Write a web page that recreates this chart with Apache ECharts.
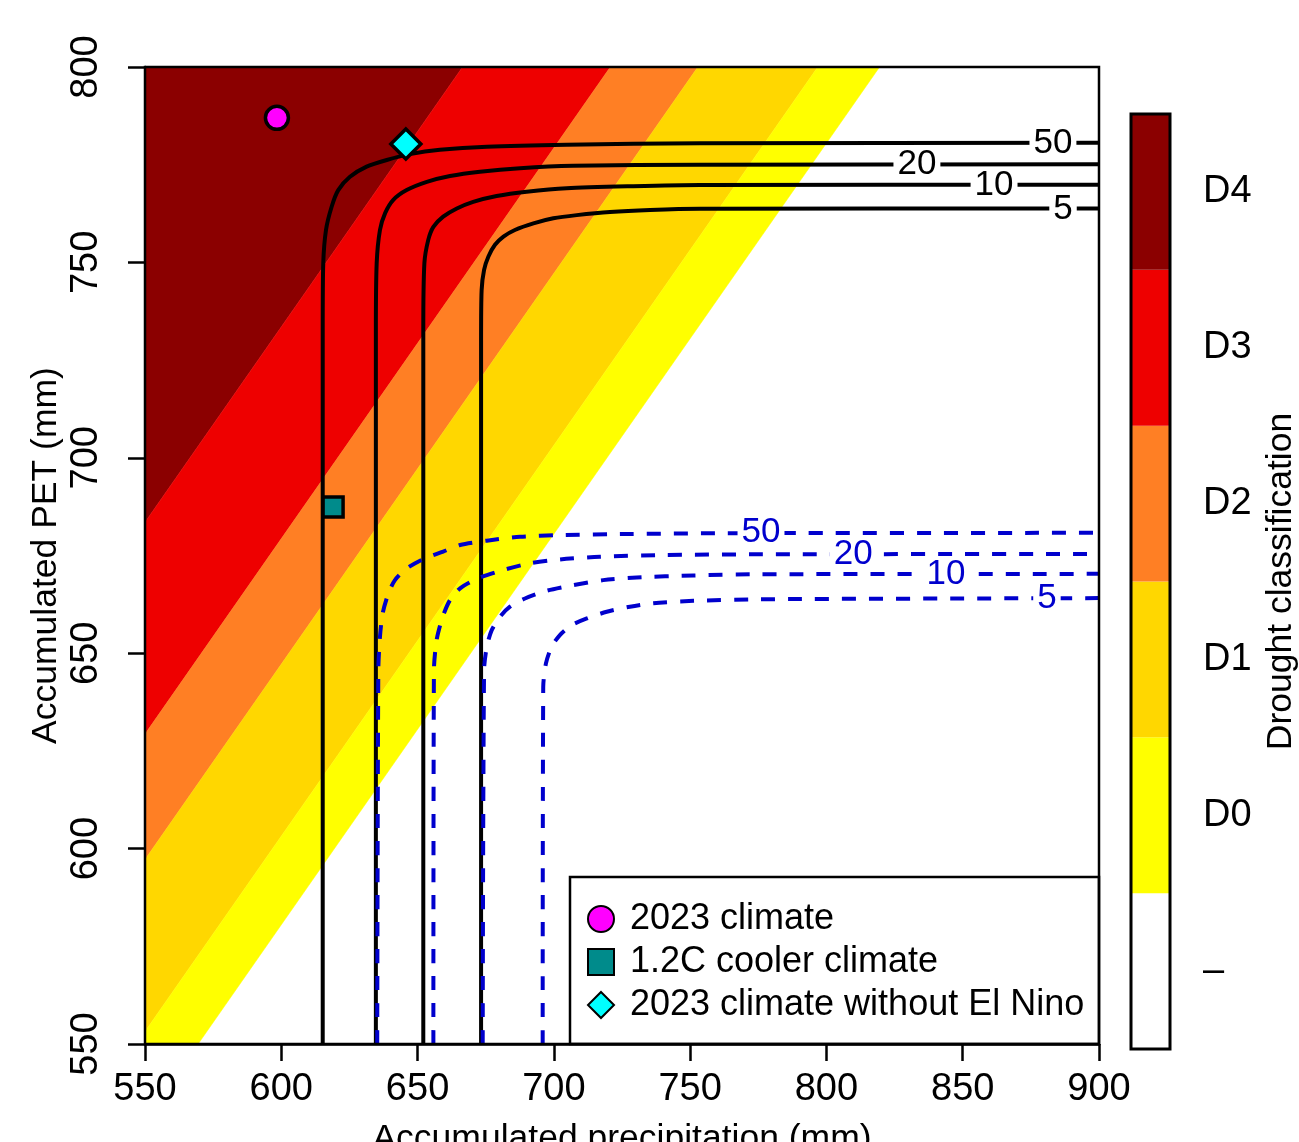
<!DOCTYPE html>
<html>
<head>
<meta charset="utf-8">
<script src="https://cdn.jsdelivr.net/npm/echarts@6/dist/echarts.min.js"></script>
<style>html,body{margin:0;padding:0;background:#fff}#c{width:1299px;height:1142px}</style>
</head>
<body>
<div id="c"></div>
<script>
// ---------------- DATA ----------------
const xTicks = [550, 600, 650, 700, 750, 800, 850, 900];
const yTicks = [550, 600, 650, 700, 750, 800];

// Drought classes as bands of (PET - precipitation)
const bandNames  = ['D4', 'D3', 'D2', 'D1', 'D0'];
const bandLower  = [133.5, 79.3, 47.2, 3.2, -19.5];
const bandUpper  = [400, 133.5, 79.3, 47.2, 3.2];
const bandColors = ['#8B0000', '#EE0000', '#FF7F24', '#FFD700', '#FFFF00'];

const colorbarLabels = ['–', 'D0', 'D1', 'D2', 'D3', 'D4'];
const colorbarColors = ['#FFFFFF', '#FFFF00', '#FFD700', '#FF7F24', '#EE0000', '#8B0000'];

const returnPeriods = ['50', '20', '10', '5'];

// Return-period contours, 2023 climate (black, solid)
const black50 = [[615.2,550],[615.2,732.7],[615.4,749.8],[616.4,758.3],[618.5,764.3],[620.9,768.5],[625.2,771.9],[631.3,774.5],[638.7,776.2],[647.2,777.7],[658.2,778.8],[675.4,779.6],[704.7,780.1],[753.6,780.5],[900,780.6]];
const black20 = [[634.7,550],[634.7,732.7],[635.0,749.8],[636.2,758.3],[638.1,762.6],[641.1,766.0],[646.0,768.5],[653.4,770.6],[661.9,772.1],[672.9,773.2],[687.6,774.1],[707.1,774.7],[753.6,775.0],[900,775.1]];
const black10 = [[652.1,550],[652.1,732.7],[652.5,749.8],[653.9,755.7],[655.8,759.1],[659.4,761.7],[664.4,763.8],[670.4,765.5],[679.0,767.0],[690.0,768.1],[704.7,769.0],[729.1,769.5],[753.6,769.8],[900,769.9]];
const black5  = [[673.3,550],[673.3,730.0],[673.5,742.9],[674.4,748.1],[676.0,751.5],[678.4,754.5],[681.5,756.6],[685.7,758.3],[692.5,760.0],[699.8,761.3],[708.4,762.1],[720.6,762.9],[735.3,763.4],[753.6,763.7],[900,763.8]];

// Return-period contours, cooler climate (blue, dashed)
const blue50 = [[635.2,550],[635.6,645.7],[636.2,654.2],[637.2,660.2],[639.3,665.3],[641.7,668.7],[646.0,671.7],[652.7,674.3],[659.4,676.0],[665.6,677.7],[675.4,678.8],[687.6,679.8],[702.3,680.2],[726.7,680.5],[763.4,680.7],[900,680.8]];
const blue20 = [[655.8,550],[656.0,645.7],[657.0,653.4],[659.2,659.3],[661.9,663.6],[665.6,666.6],[672.3,669.2],[681.5,671.3],[691.2,673.0],[702.3,674.0],[716.9,674.7],[738.9,675.1],[775.6,675.3],[900,675.4]];
const blue10 = [[673.9,550],[674.4,645.7],[675.4,651.7],[677.2,655.9],[680.2,659.3],[683.9,661.9],[689.4,664.0],[697.4,666.0],[707.1,667.4],[718.1,668.7],[730.4,669.4],[751.2,669.9],[775.6,670.2],[900,670.3]];
const blue5  = [[695.9,550],[696.1,641.4],[697.1,647.4],[699.2,651.7],[702.3,654.7],[706.6,657.2],[712.1,658.9],[719.4,660.6],[727.9,661.9],[736.5,662.8],[751.2,663.4],[775.6,663.8],[900,664.1]];

// Contour label positions
const blackLabelPos = [[883.1,780.5],[833.2,775.0],[861.5,769.8],[886.8,763.7]];
const blueLabelPos  = [[776.0,680.8],[809.8,675.4],[843.9,670.1],[880.9,664.1]];

// Scenario points
const legendNames = ['2023 climate', '1.2C cooler climate', '2023 climate without El Nino'];
const pt2023      = [[598.4, 787.0]];
const ptCooler    = [[619.0, 687.4]];
const ptNoElNino  = [[645.7, 780.3]];

// ---------------- CHART ----------------
const FONT = '"Liberation Sans", Arial, Helvetica, sans-serif';
const FS = 35.5;   // axis titles
const FSL = 36;    // legend
const FST = 38;    // tick labels
const box = {xmin: xTicks[0], xmax: xTicks[xTicks.length-1], ymin: yTicks[0], ymax: yTicks[yTicks.length-1]};

function clipPolygon(pts, b) {
  const planes = [[0, b.xmin, 1], [0, b.xmax, -1], [1, b.ymin, 1], [1, b.ymax, -1]];
  let out = pts;
  for (const [k, v, s] of planes) {
    const inp = out; out = [];
    for (let i = 0; i < inp.length; i++) {
      const a = inp[i], c = inp[(i + 1) % inp.length];
      const ina = s * (a[k] - v) >= 0, inc = s * (c[k] - v) >= 0;
      if (ina) out.push(a);
      if (ina !== inc) {
        const t = (v - a[k]) / (c[k] - a[k]);
        out.push([a[0] + t * (c[0] - a[0]), a[1] + t * (c[1] - a[1])]);
      }
    }
  }
  return out;
}
function bandPolygon(lo, hi) {
  const x0 = 300, x1 = 1200;
  return [[x0, x0 + lo], [x1, x1 + lo], [x1, x1 + hi], [x0, x0 + hi]];
}

function contour(data, color, dashed) {
  return {
    type: 'line', data: data, xAxisIndex: 0, yAxisIndex: 0,
    showSymbol: false, symbol: 'none', smooth: 0.25, silent: true, z: 3,
    lineStyle: {color: color, width: 4, type: dashed ? [14, 13] : 'solid', cap: 'butt', join: 'round'}
  };
}
function labelSeries(pos, color) {
  return {
    type: 'custom', xAxisIndex: 0, yAxisIndex: 0, z: 4, silent: true,
    data: pos,
    renderItem: function (params, api) {
      const p = api.coord([api.value(0), api.value(1)]);
      return {
        type: 'text', x: p[0], y: p[1],
        style: {text: returnPeriods[params.dataIndex], fill: color, font: '35px ' + FONT,
                align: 'center', verticalAlign: 'middle', backgroundColor: '#fff', padding: [0, 4], lineHeight: 26}
      };
    }
  };
}
const markerStyle = (c) => ({color: c, borderColor: '#000', borderWidth: 3.5, opacity: 1});
const axisText = {fontSize: FS, color: '#000', fontFamily: FONT};
const tickText = {fontSize: FST, color: '#000', fontFamily: FONT};

const option = {
  animation: false,
  backgroundColor: '#fff',
  grid: [
    {left: 145, top: 67, width: 954, height: 977, show: true, borderColor: '#000', borderWidth: 2.5,
     backgroundColor: 'transparent', z: 10, containLabel: false, outerBoundsMode: 'none'},
    {left: 1131, top: 114, width: 39, height: 935, show: true, borderColor: '#000', borderWidth: 3,
     backgroundColor: 'transparent', z: 10, containLabel: false, outerBoundsMode: 'none'}
  ],
  xAxis: [
    {gridIndex: 0, type: 'value', min: xTicks[0], max: xTicks[xTicks.length-1], interval: xTicks[1]-xTicks[0],
     axisLine: {show: true, onZero: false, lineStyle: {color: '#000', width: 2.5}},
     axisTick: {show: true, length: 17, lineStyle: {color: '#000', width: 2.5}},
     axisLabel: Object.assign({margin: 27, showMinLabel: true, showMaxLabel: true, hideOverlap: false}, tickText),
     splitLine: {show: false},
     name: 'Accumulated precipitation (mm)', nameLocation: 'middle', nameGap: 77, nameMoveOverlap: false,
     nameTextStyle: axisText},
    {gridIndex: 1, type: 'value', min: 0, max: 1, show: false}
  ],
  yAxis: [
    {gridIndex: 0, type: 'value', min: yTicks[0], max: yTicks[yTicks.length-1], interval: yTicks[1]-yTicks[0],
     axisLine: {show: true, onZero: false, lineStyle: {color: '#000', width: 2.5}},
     axisTick: {show: true, length: 17, lineStyle: {color: '#000', width: 2.5}},
     axisLabel: Object.assign({margin: 39, rotate: 90, showMinLabel: true, showMaxLabel: true, hideOverlap: false}, tickText),
     splitLine: {show: false},
     name: 'Accumulated PET (mm)', nameLocation: 'middle', nameRotate: 90, nameGap: 81, nameMoveOverlap: false,
     nameTextStyle: axisText},
    {gridIndex: 1, type: 'category', data: colorbarLabels, position: 'right',
     axisLine: {show: false},
     axisTick: {show: true, length: 16, alignWithLabel: true, lineStyle: {color: '#000', width: 2.5}},
     axisLabel: Object.assign({margin: 33, hideOverlap: false}, tickText),
     name: 'Drought classification', nameLocation: 'middle', nameRotate: 90, nameGap: 93, nameMoveOverlap: false,
     nameTextStyle: axisText}
  ],
  legend: {
    orient: 'vertical', left: 570, top: 877, z: 6, selectedMode: false,
    padding: [24, 10, 10, 17], itemWidth: 26, itemHeight: 26, itemGap: 7,
    textStyle: {fontSize: FSL, fontFamily: FONT, color: '#000', lineHeight: 35, padding: [0, 0, 0, 11]},
    data: [{name: legendNames[0], icon: 'circle'}, {name: legendNames[1], icon: 'rect'}, {name: legendNames[2], icon: 'diamond'}]
  },
  graphic: [
    {type: 'rect', z: 5, silent: true, shape: {x: 570, y: 877, width: 529, height: 167},
     style: {fill: '#fff', stroke: '#000', lineWidth: 2.5}}
  ],
  series: [
    {type: 'custom', xAxisIndex: 0, yAxisIndex: 0, z: 1, silent: true,
     data: bandNames.map((n, i) => ({name: n, value: [bandLower[i], bandUpper[i]]})),
     renderItem: function (params, api) {
       const i = params.dataIndex;
       const poly = clipPolygon(bandPolygon(bandLower[i], bandUpper[i]), box);
       return {type: 'polygon', shape: {points: poly.map(p => api.coord(p))},
               style: {fill: bandColors[i], stroke: bandColors[i], lineWidth: 0.5}};
     }},
    contour(black50, '#000', false), contour(black20, '#000', false),
    contour(black10, '#000', false), contour(black5, '#000', false),
    contour(blue50, '#0000CD', true), contour(blue20, '#0000CD', true),
    contour(blue10, '#0000CD', true), contour(blue5, '#0000CD', true),
    labelSeries(blackLabelPos, '#000'),
    labelSeries(blueLabelPos, '#0000CD'),
    {type: 'scatter', name: legendNames[0], data: pt2023, symbol: 'circle', symbolSize: 23, z: 5, itemStyle: markerStyle('#FF00FF')},
    {type: 'scatter', name: legendNames[1], data: ptCooler, symbol: 'rect', symbolSize: 20, z: 5, itemStyle: markerStyle('#008B8B')},
    {type: 'scatter', name: legendNames[2], data: ptNoElNino, symbol: 'diamond', symbolSize: 30, z: 5, itemStyle: markerStyle('#00FFFF')},
    {type: 'bar', xAxisIndex: 1, yAxisIndex: 1, silent: true, barWidth: '100%', barCategoryGap: '0%', z: 2,
     data: colorbarColors.map(c => ({value: 1, itemStyle: {color: c}}))}
  ]
};
const chart = echarts.init(document.getElementById('c'), null, {renderer: 'canvas'});
chart.setOption(option);
</script>
</body>
</html>
